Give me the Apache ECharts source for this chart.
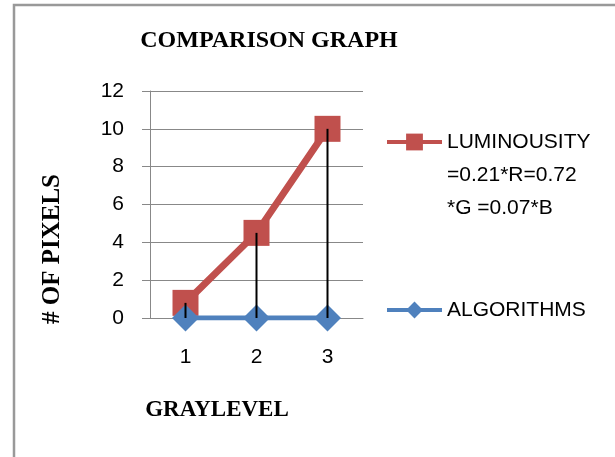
<!DOCTYPE html>
<html>
<head>
<meta charset="utf-8">
<script src="https://cdn.jsdelivr.net/npm/echarts@6/dist/echarts.min.js"></script>
<style>
html,body{margin:0;padding:0;background:#fff;}
#c{width:615px;height:457px;}
</style>
</head>
<body>
<div id="c"></div>
<script>
var categories = ['1', '2', '3'];
var luminosityValues = [0.8, 4.5, 10];
var algorithmValues = [0, 0, 0];
var yTicks = { min: 0, max: 12, interval: 2 };
var lumName = 'LUMINOUSITY\n=0.21*R=0.72\n*G =0.07*B';
var algName = 'ALGORITHMS';
var titleText = 'COMPARISON GRAPH';
var xName = 'GRAYLEVEL';
var yName = '# OF PIXELS';

var RED = '#C0504D', BLUE = '#4F81BD', GRID = '#888888';
var SANS = '"Liberation Sans", Arial, sans-serif';
var SERIF = '"Liberation Serif", "Times New Roman", serif';

var chart = echarts.init(document.getElementById('c'), null, { renderer: 'canvas' });
chart.setOption({
  animation: false,
  backgroundColor: '#fff',
  title: {
    text: titleText,
    left: 269, top: 41, textAlign: 'center', textVerticalAlign: 'middle',
    padding: 0,
    textStyle: { fontFamily: SERIF, fontWeight: 'bold', fontSize: 24, color: '#000' }
  },
  graphic: [
    { type: 'polyline', shape: { points: [[14, 460], [14, 5], [620, 5]] },
      style: { stroke: '#999', lineWidth: 2.5, fill: null }, silent: true },
    { type: 'text', x: 217, y: 410,
      style: { text: xName, align: 'center', verticalAlign: 'middle',
        font: 'bold 23px ' + SERIF, fill: '#000' } },
    { type: 'text', x: 53, y: 249, rotation: Math.PI / 2,
      style: { text: yName, align: 'center', verticalAlign: 'middle',
        font: 'bold 25px ' + SERIF, fill: '#000' } }
  ],
  legend: [
    {
      data: [{ name: lumName }],
      left: 385, top: 59.5, padding: 0,
      itemWidth: 55, itemHeight: 21,
      formatter: function (n) { return '\n\n' + n; },
      textStyle: { fontFamily: SANS, fontSize: 21, color: '#000', lineHeight: 33 },
      lineStyle: { width: 4 }
    },
    {
      data: [{ name: algName }],
      left: 385, top: 293.5, padding: 0,
      itemWidth: 55, itemHeight: 21,
      textStyle: { fontFamily: SANS, fontSize: 21, color: '#000', lineHeight: 33 },
      lineStyle: { width: 4 }
    }
  ],
  grid: { left: 150, right: 252, top: 91, bottom: 139, containLabel: false },
  xAxis: {
    type: 'category', data: categories, boundaryGap: true,
    axisLine: { lineStyle: { color: GRID, width: 1 } },
    axisTick: { show: false },
    axisLabel: { fontFamily: SANS, fontSize: 21, color: '#000', margin: 29 },
    splitLine: { show: false }
  },
  yAxis: {
    type: 'value', min: yTicks.min, max: yTicks.max, interval: yTicks.interval,
    axisLine: { show: true, lineStyle: { color: GRID, width: 1 } },
    axisTick: { show: true, length: 8, lineStyle: { color: GRID } },
    axisLabel: { fontFamily: SANS, fontSize: 21, color: '#000', margin: 26 },
    splitLine: { show: true, lineStyle: { color: GRID, width: 1 } }
  },
  series: [
    {
      name: lumName, type: 'line', data: luminosityValues,
      symbol: 'rect', symbolSize: 26, z: 2,
      lineStyle: { color: RED, width: 7 },
      itemStyle: { color: RED }
    },
    {
      name: algName, type: 'line', data: algorithmValues,
      symbol: 'diamond', symbolSize: 27, z: 3,
      lineStyle: { color: BLUE, width: 5 },
      itemStyle: { color: BLUE }
    },
    {
      name: 'drop', type: 'bar', data: luminosityValues,
      barWidth: 2, z: 5, silent: true,
      itemStyle: { color: '#000' }
    }
  ]
});
</script>
</body>
</html>
